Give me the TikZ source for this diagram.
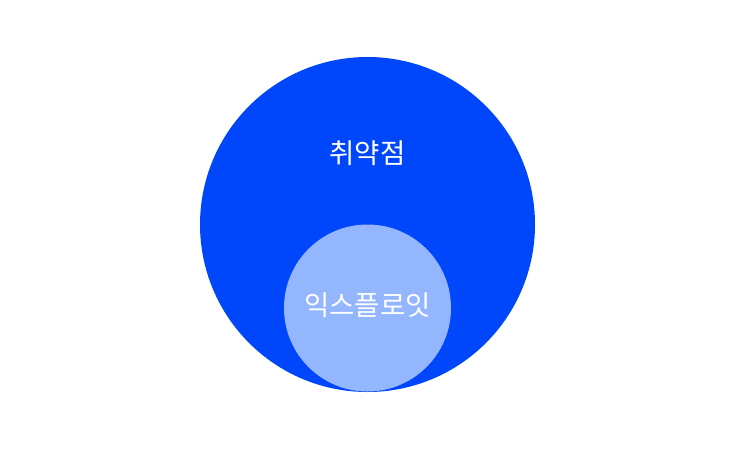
\documentclass[tikz,border=0pt]{standalone}
\usepackage{fontspec}
\usepackage{tikz}
\usepackage{xcolor}
\usetikzlibrary{positioning}
\newfontfamily\krfont{Noto Sans CJK KR}
\definecolor{vulnblue}{RGB}{0, 70, 250}
\definecolor{exploitblue}{RGB}{148, 182, 255}

\begin{document}
\begin{tikzpicture}[
    x=1pt, y=1pt,
    outer/.style={circle, fill=vulnblue, minimum size=335pt, inner sep=0pt},
    inner/.style={circle, fill=exploitblue, minimum size=167pt, inner sep=0pt},
    label/.style={text=white, font=\krfont\fontsize{27.5}{32}\selectfont}
]
\useasboundingbox (0,0) rectangle (730,-450);

% Vulnerabilities (outer)
\node[outer] (vuln) at (367.5,-224.5) {};
\node[label] (vulntext) at (367.5,-153) {취약점};

% Exploits (inner)
\node[inner] (exploit) at (367.5,-308) {};
\node[label] (exploittext) at (367.5,-305) {익스플로잇};

\end{tikzpicture}
\end{document}
